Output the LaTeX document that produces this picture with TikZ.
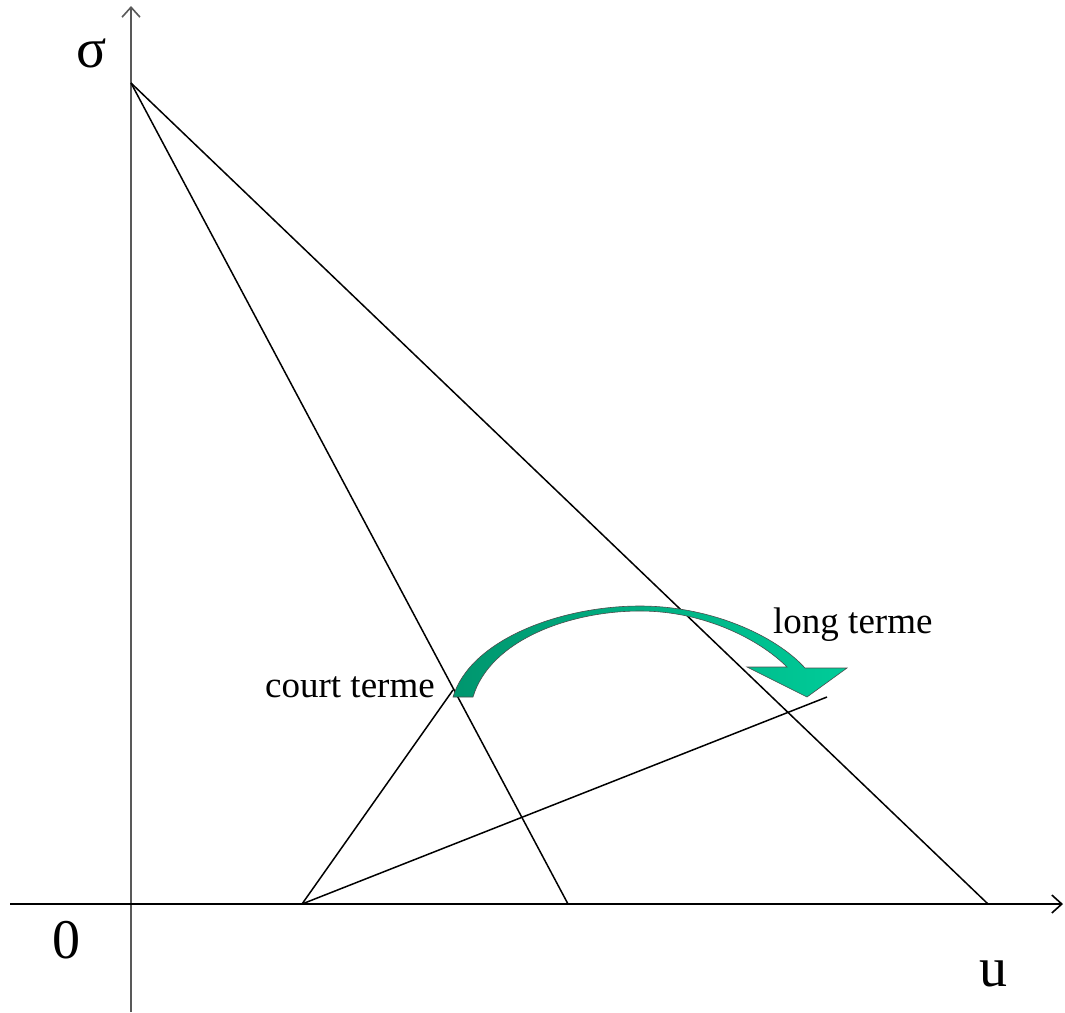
\documentclass[tikz,border=0pt]{standalone}
\usepackage{fontspec}
\setmainfont{Liberation Serif}
\usetikzlibrary{arrows.meta}
\definecolor{tealdark}{RGB}{0,150,110}
\definecolor{teallight}{RGB}{0,204,153}
\tikzset{
  axis/.style={line width=1.6pt,-{Straight Barb[length=10pt,width=18pt]}},
  guide/.style={line width=1.5pt},
  axislabel/.style={font=\fontsize{56}{60}\selectfont,inner sep=0,anchor=base},
  termlabel/.style={font=\fontsize{37}{40}\selectfont,inner sep=0,anchor=base west},
}
\begin{document}
\begin{tikzpicture}[x=1pt,y=-1pt]
  \useasboundingbox (0,0) rectangle (1065,1012);
  % points
  \coordinate (ybot) at (131,1012);
  \coordinate (ytop) at (131,6);
  \coordinate (xleft) at (10,904);
  \coordinate (xright) at (1063,904);
  \coordinate (apex) at (131,83);
  \coordinate (steep) at (568,904);
  \coordinate (flat) at (988,904);
  \coordinate (p) at (302,904);
  \coordinate (court) at (453,690);
  \coordinate (pend) at (827,697);
  % axes
  \draw[axis,black!65] (ybot) -- (ytop);
  \draw[axis] (xleft) -- (xright);
  % lines
  \draw[guide] (apex) -- (steep);
  \draw[guide] (apex) -- (flat);
  \draw[guide] (p) -- (court);
  \draw[guide] (p) -- (pend);
  % curved arrow
  \path[draw=black!70,line width=0.6pt,left color=tealdark,right color=teallight]
    (453,697) .. controls (470,640) and (560,606) .. (640,606)
    .. controls (710,606) and (775,635) .. (805,668)
    -- (847,668) -- (807,697) -- (747,667) -- (787,667)
    .. controls (760,640) and (705,611) .. (640,611)
    .. controls (570,611) and (490,640) .. (473,697) -- cycle;
  % labels
  \node[axislabel] (sig) at (92,67) {σ};
  \node[axislabel] (zero) at (66,958) {0};
  \node[axislabel] (uu) at (993,986) {u};
  \node[termlabel] (ct) at (265,697) {court terme};
  \node[termlabel] (lt) at (773,633) {long terme};
\end{tikzpicture}
\end{document}
